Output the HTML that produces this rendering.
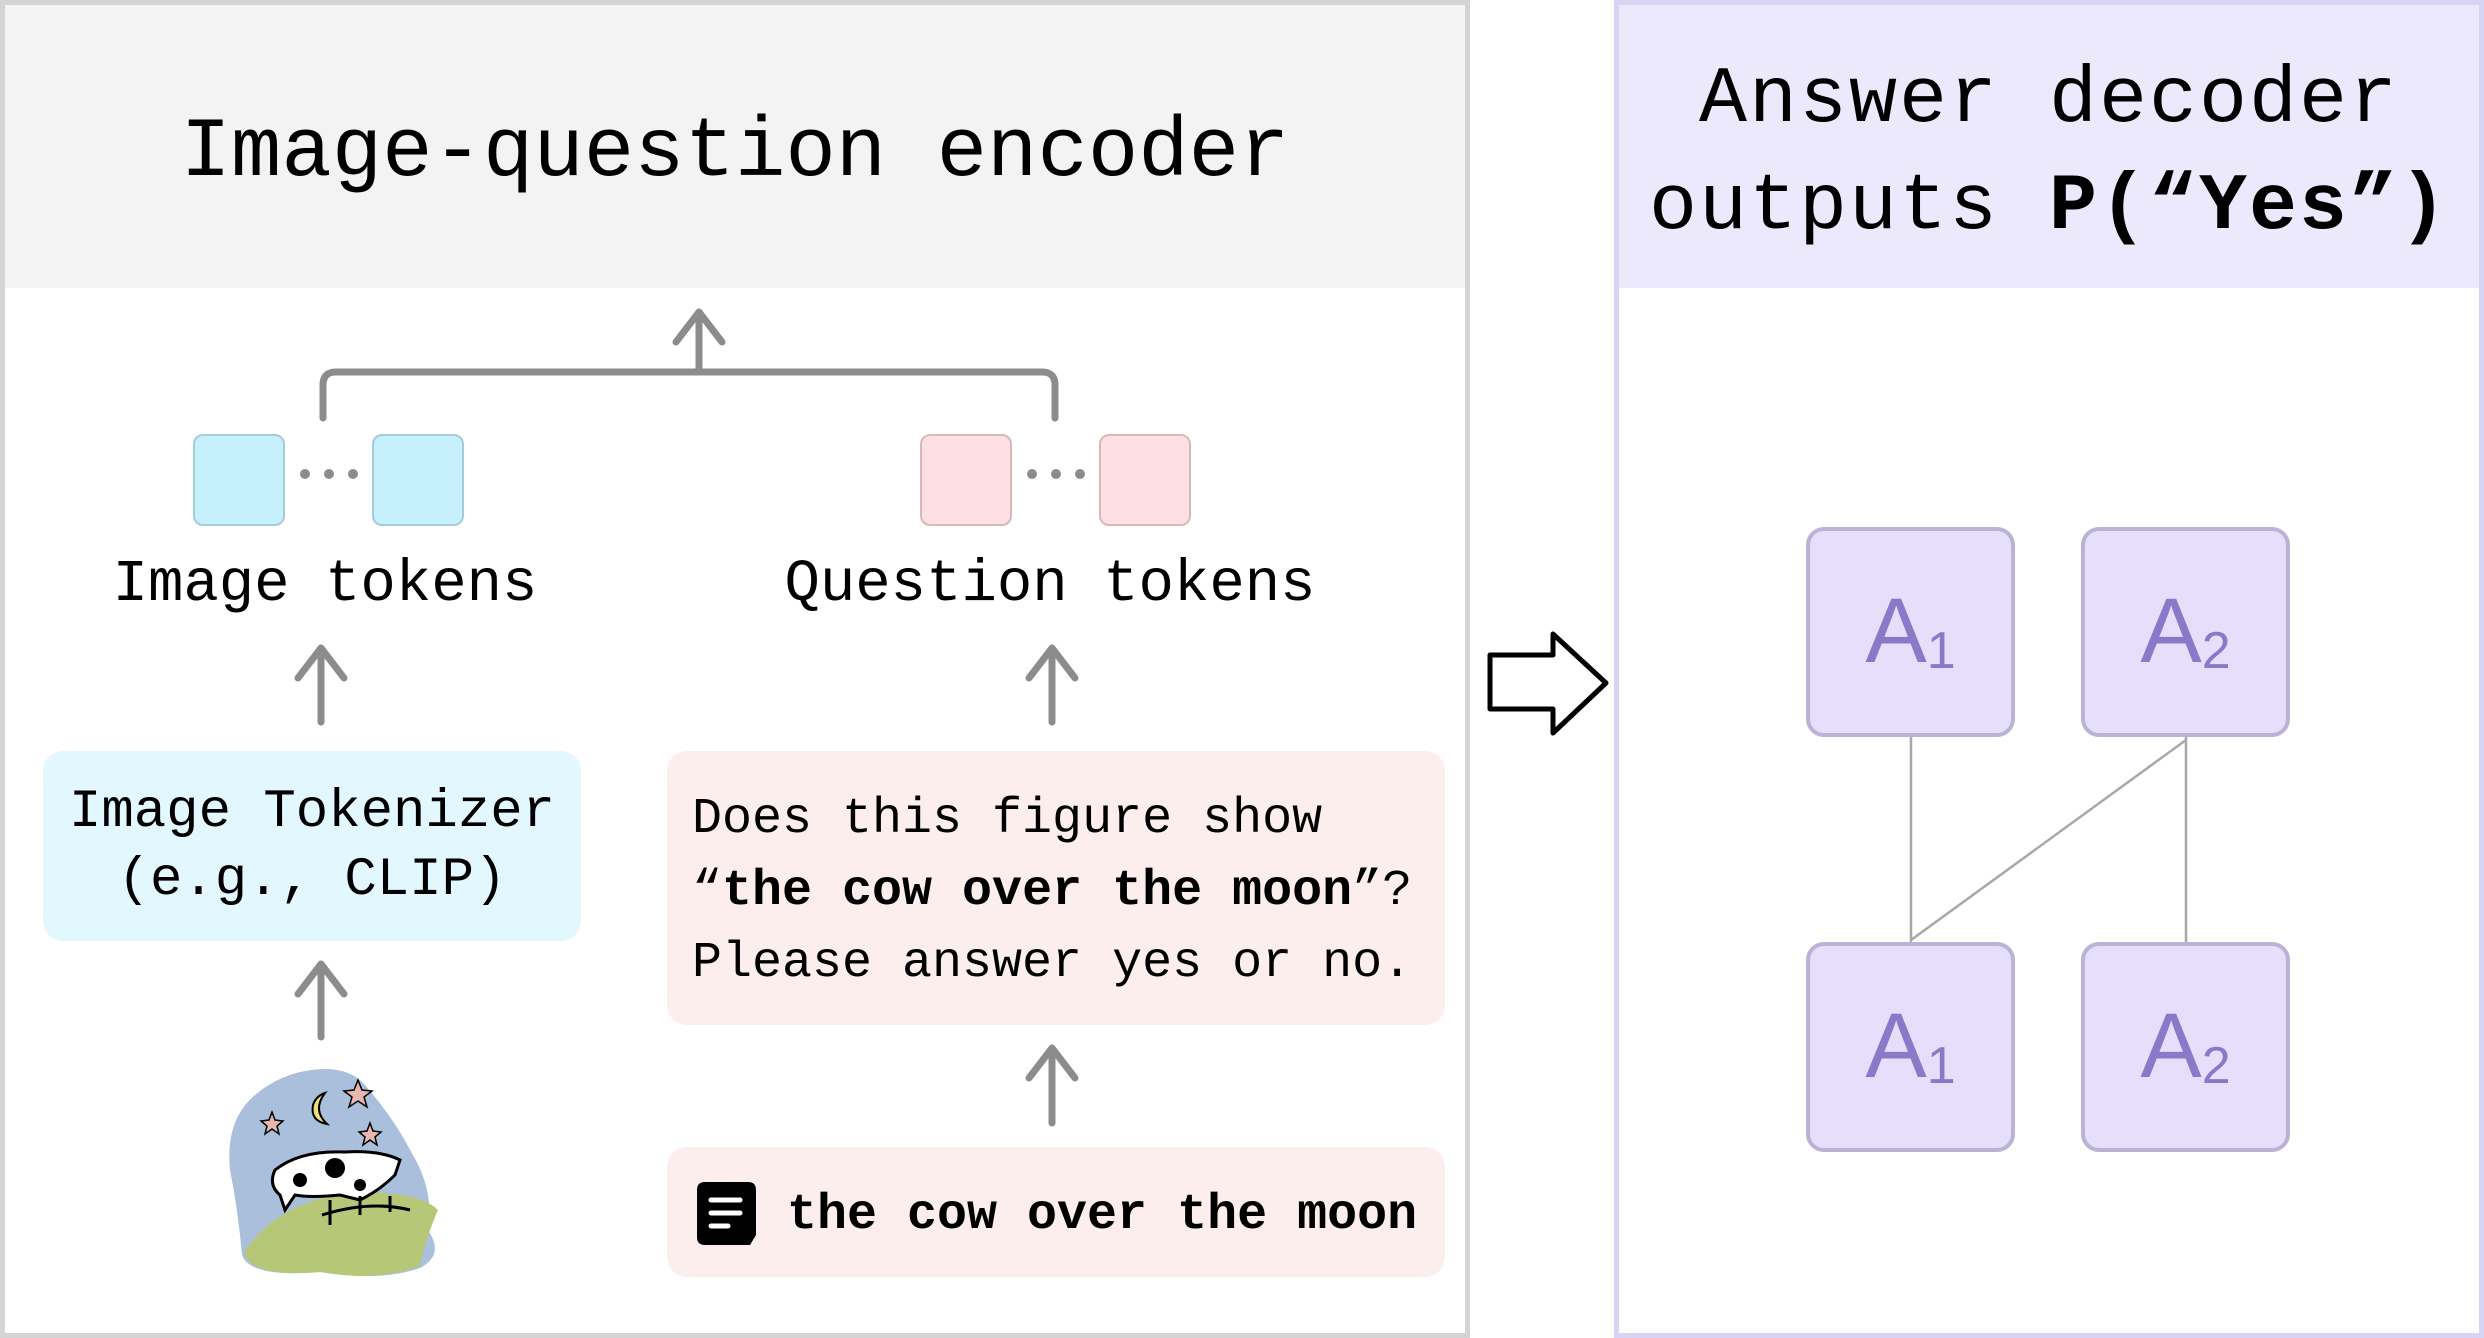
<!DOCTYPE html>
<html><head><meta charset="utf-8"><style>
html,body{margin:0;padding:0;background:#fff}
body{width:2484px;height:1338px;position:relative;overflow:hidden;font-family:"Liberation Mono",monospace}
.a{position:absolute}
.box{position:absolute;border-radius:20px}
.tok{position:absolute;width:92px;height:92px;border-radius:10px;box-sizing:border-box;border:2px solid}
.A{position:absolute;width:209px;height:210px;box-sizing:border-box;border:4px solid #bab3d6;background:#e5dffc;border-radius:18px;color:#8a79c8;font-family:"Liberation Sans",sans-serif;font-size:92px;text-align:center;line-height:200px}
.A sub{font-size:52px;vertical-align:-6px}
</style></head><body>
<div class="a" style="left:0;top:0;width:1470px;height:1338px;box-sizing:border-box;border:5px solid #d4d4d4"></div>
<div class="a" style="left:5px;top:5px;width:1460px;height:283px;background:#f3f3f3"></div>
<div class="a" style="left:5px;top:94px;width:1460px;text-align:center;font-size:84px;line-height:120px">Image-question encoder</div>
<div class="a" style="left:1614px;top:0;width:870px;height:1338px;box-sizing:border-box;border:5px solid #d8d4f6"></div>
<div class="a" style="left:1619px;top:5px;width:860px;height:283px;background:#ece9fd"></div>
<div class="a" style="left:1619px;top:47px;width:860px;text-align:center;font-size:80px;line-height:107px;letter-spacing:2px">Answer decoder<br>outputs <b>P(“Yes”)</b></div>

<div class="tok" style="left:193px;top:434px;background:#c7f0fd;border-color:#a5ccd8"></div>
<div class="tok" style="left:372px;top:434px;background:#c7f0fd;border-color:#a5ccd8"></div>
<div class="tok" style="left:920px;top:434px;background:#fee0e2;border-color:#d8b8ba"></div>
<div class="tok" style="left:1099px;top:434px;background:#fee0e2;border-color:#d8b8ba"></div>
<div class="a" style="left:40px;top:545px;width:570px;text-align:center;font-size:59px;line-height:80px">Image tokens</div>
<div class="a" style="left:750px;top:545px;width:600px;text-align:center;font-size:59px;line-height:80px">Question tokens</div>

<div class="box" style="left:43px;top:751px;width:538px;height:190px;background:#e3f7fe"></div>
<div class="a" style="left:43px;top:779px;width:538px;text-align:center;font-size:54px;line-height:68px">Image Tokenizer<br>(e.g., CLIP)</div>
<div class="box" style="left:667px;top:751px;width:778px;height:274px;background:#fdeeee"></div>
<div class="a" style="left:692px;top:784px;font-size:50px;line-height:72px;white-space:pre">Does this figure show
“<b>the cow over the moon</b>”?
Please answer yes or no.</div>
<div class="box" style="left:667px;top:1147px;width:778px;height:130px;background:#fdeeee"></div>
<div class="a" style="left:787px;top:1181px;font-size:50px;line-height:70px;font-weight:bold;white-space:pre">the cow over the moon</div>

<div class="A" style="left:1806px;top:527px">A<sub>1</sub></div>
<div class="A" style="left:2081px;top:527px">A<sub>2</sub></div>
<div class="A" style="left:1806px;top:942px">A<sub>1</sub></div>
<div class="A" style="left:2081px;top:942px">A<sub>2</sub></div>

<svg class="a" style="left:0;top:0" width="2484" height="1338">
<g fill="none" stroke="#8c8c8c" stroke-width="7" stroke-linecap="round" stroke-linejoin="round">
<path d="M323 418 V385 Q323 372 336 372 H1042 Q1055 372 1055 385 V418"/>
<path d="M699 372 V312 M676 342 L699 312 L722 342"/>
<path d="M321 722 V648 M298 678 L321 648 L344 678"/>
<path d="M1052 722 V648 M1029 678 L1052 648 L1075 678"/>
<path d="M321 1037 V964 M298 994 L321 964 L344 994"/>
<path d="M1052 1123 V1048 M1029 1078 L1052 1048 L1075 1078"/>
</g>
<g fill="#8c8c8c"><circle cx="305" cy="474" r="5"/><circle cx="329" cy="474" r="5"/><circle cx="353" cy="474" r="5"/>
<circle cx="1032" cy="474" r="5"/><circle cx="1056" cy="474" r="5"/><circle cx="1080" cy="474" r="5"/></g>
<path d="M1490 655 H1553 V634 L1606 683 L1553 733 V709 H1490 Z" fill="#fff" stroke="#000" stroke-width="5" stroke-linejoin="round"/>
<g stroke="#a8a8a8" stroke-width="2.5"><line x1="1911" y1="737" x2="1911" y2="942"/><line x1="2186" y1="737" x2="2186" y2="942"/><line x1="2186" y1="740" x2="1911" y2="940"/></g>
<path d="M705 1182 H748 Q756 1182 756 1190 V1235 L750 1245 H705 Q697 1245 697 1237 V1190 Q697 1182 705 1182 Z" fill="#000"/>
<g stroke="#fff" stroke-width="5" stroke-linecap="round"><line x1="711" y1="1200" x2="740" y2="1200"/><line x1="711" y1="1213" x2="740" y2="1213"/><line x1="711" y1="1226" x2="728" y2="1226"/></g>
<!-- cow image -->
<path d="M300 1072 Q345 1062 365 1085 Q395 1120 410 1150 Q435 1190 428 1230 Q445 1255 420 1268 Q380 1282 320 1272 Q250 1278 242 1255 Q238 1210 230 1170 Q225 1120 255 1095 Q275 1078 300 1072 Z" fill="#a9bfdb"/>
<path d="M244 1252 Q280 1198 360 1192 Q420 1192 438 1210 Q425 1240 420 1266 Q380 1282 320 1272 Q250 1278 244 1252 Z" fill="#b6c878"/>
<path d="M325 1093 Q312 1110 327 1124 Q310 1121 313 1105 Q316 1096 325 1093 Z" fill="#f0de7a" stroke="#000" stroke-width="2"/>
<g fill="#e8b8b0" stroke="#000" stroke-width="1.5"><path d="M358 1080 l4 10 10 1 -8 6 3 10 -9 -6 -9 6 3 -10 -8 -6 10 -1z"/><path d="M272 1112 l3 8 8 1 -6 5 2 8 -7 -5 -7 5 2 -8 -6 -5 8 -1z"/><path d="M370 1123 l3 8 8 1 -6 5 2 8 -7 -5 -7 5 2 -8 -6 -5 8 -1z"/></g>
<path d="M275 1170 Q300 1150 345 1152 Q380 1150 400 1160 L395 1175 Q380 1190 360 1200 L340 1195 Q310 1198 295 1195 L285 1210 L280 1195 Q268 1185 275 1170 Z" fill="#fff" stroke="#000" stroke-width="3"/>
<circle cx="335" cy="1168" r="10" fill="#000"/><circle cx="300" cy="1180" r="7" fill="#000"/><circle cx="360" cy="1185" r="6" fill="#000"/>
<path d="M322 1215 Q370 1200 410 1210 M330 1225 V1200 M360 1215 V1196 M390 1212 V1196" fill="none" stroke="#000" stroke-width="3"/>
</svg>
</body></html>
